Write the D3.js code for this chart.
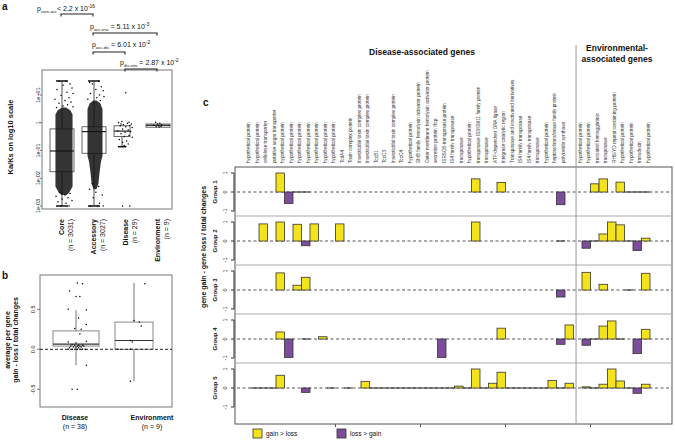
<!DOCTYPE html>
<html>
<head>
<meta charset="utf-8">
<script src="https://cdn.jsdelivr.net/npm/d3@7"></script>
<style>
body { margin: 0; background: #fff; }
text { font-family: "Liberation Sans", Arial, sans-serif; fill: #111; }
</style>
</head>
<body>
<svg width="675" height="440"></svg>
<script>
var svg = d3.select("svg");

// ---------------- panel a data ----------------
var catsA = ["Core", "Accessory", "Disease", "Environment"];
var nA = [3031, 3027, 29, 9];
var ticksA = [1e-3, 1e-2, 1e-1, 1, 10];
var tickTextA = ["1e-03", "1e-02", "1e-01", "1", "1e+01"];
// low whisker, q1, median, q3, high whisker
var boxCore = [0.001, 0.0172, 0.096, 0.6, 32];
var boxAcc = [0.001, 0.079, 0.48, 0.72, 32];
var boxDis = [0.137, 0.32, 0.5, 0.78, 0.78];
var boxEnv = [0.69, 0.69, 0.81, 0.9, 0.9];
// dense part of the jittered points: [log10 Ka/Ks, relative spread]
var cloudCore = [[0.55, 0.2], [0.45, 0.7], [0.3, 0.95], [-2.3, 0.95], [-2.5, 0.6], [-2.6, 0.3]];
var cloudAcc = [[0.8, 0.2], [0.7, 0.7], [0.5, 1], [-1.2, 1], [-1.4, 0.8], [-1.8, 0.6], [-2.2, 0.45], [-2.4, 0.2]];
// sparse points outside the dense part: [log10 Ka/Ks, jitter]
var sparseCore = [[1.5, -0.5], [1.5, 0.2], [1.4, 0.6], [1.35, -0.1], [1.25, 0.8], [1.2, -0.7], [1.1, 0.3],
  [1.05, 0.9], [0.98, -0.3], [0.9, 0.5], [0.85, -0.9], [0.8, 0.1], [0.75, 0.7], [0.7, -0.5], [0.65, 0.35],
  [0.6, -0.1], [0.58, 0.9], [0.55, -0.75], [-2.5, -0.4], [-2.55, 0.6], [-2.6, 0.1], [-2.65, -0.8],
  [-2.7, 0.4], [-2.75, -0.2], [-2.8, 0.8], [-2.85, -0.6], [-2.9, 0.2], [-3, -0.3], [-3, 0.5]];
var sparseAcc = [[1.5, 0.4], [1.45, -0.6], [1.4, -0.3], [1.3, 0.7], [1.2, 0.1], [1.15, 0.9], [1.05, -0.5],
  [1.0, 0.5], [0.95, 1.0], [0.9, 0.2], [0.85, -0.8], [0.8, 0.6], [-2.2, -0.3], [-2.3, 0.4], [-2.4, -0.6],
  [-2.5, 0.1], [-2.6, 0.8], [-2.7, -0.2], [-2.9, 0.5], [-3, -0.5], [-3, 0.3], [-3, 0.9]];
var ptsDisA = [[12, 0.1], [1.1, -0.4], [1.05, 0.5], [1.0, -0.8], [0.95, 0.3], [0.9, 0.8], [0.85, -0.2],
  [0.8, 0.6], [0.78, -0.6], [0.72, 0.1], [0.68, 0.9], [0.6, -0.3], [0.55, 0.4], [0.5, -0.9], [0.48, 0.7],
  [0.45, 0.0], [0.4, -0.5], [0.35, 0.5], [0.32, -0.1], [0.3, 0.9], [0.25, -0.7], [0.22, 0.2], [0.2, -0.3],
  [0.17, 0.4], [0.15, -0.1], [0.14, 0.1], [0.001, -0.3], [0.001, 0.6], [0.9, -0.5]];
var ptsEnvA = [[1.05, -0.4], [0.95, 0.3], [0.9, -0.1], [0.85, 0.6], [0.82, -0.7], [0.8, 0.1], [0.75, 0.5],
  [0.72, -0.3], [0.7, 0.2]];
var pLabels = [["core-acc", "< 2.2 x 10", "-16"], ["acc-env", " = 5.11 x 10", "-3"],
  ["acc-dis", " = 6.01 x 10", "-2"], ["dis-env", " = 2.87 x 10", "-2"]];
var pPairs = [[0, 1], [1, 3], [1, 2], [2, 3]];

// ---------------- panel b data ----------------
var catsB = ["Disease", "Environment"];
var nB = [38, 9];
var ticksB = [-0.5, 0, 0.5];
var boxB = [[-0.2, 0.04, 0.065, 0.23, 0.49], [-0.4, 0.0, 0.11, 0.34, 0.83]];
var ptsDisB = [[0.83, 0.1], [0.82, 0.5], [0.73, -0.5], [0.66, 0.3], [0.66, 0.0], [0.5, -0.6], [0.49, 0.8],
  [0.39, 0.2], [0.31, 0.8], [0.26, -0.1], [0.25, 0.4], [0.19, 0.3], [0.1, 0.8], [0.09, -0.6], [0.08, 0.0],
  [0.06, -0.3], [0.05, 0.2], [0.05, 0.5], [0.05, -0.1], [0.04, 0.1], [0.04, 0.3], [0.04, -0.4],
  [0.04, 0.6], [0.03, -0.2], [0.03, 0.4], [0.03, 0.0], [0.02, -0.5], [0.02, 0.2], [0.0, -0.3],
  [0.0, 0.5], [0.0, 0.1], [0.0, -0.1], [0.0, 0.3], [0.0, 0.7], [0.0, -0.6], [-0.2, 0.8],
  [-0.5, -0.3], [-0.5, 0.1]];
var ptsEnvB = [[0.82, 0.6], [0.36, 0.0], [0.34, 0.3], [0.29, 0.4], [0.11, -0.2], [0.09, -0.1],
  [0.0, -0.2], [0.0, -0.9], [-0.4, -0.2]];

// ---------------- panel c data ----------------
var diseaseGenes = ["hypothetical protein", "hypothetical protein", "cellulose transporter",
  "putative sugar transporter", "hypothetical protein", "hypothetical protein", "hypothetical protein",
  "hypothetical protein", "hypothetical protein", "hypothetical protein", "hypothetical protein", "TcdA4",
  "Toxin complex protein", "Insecticidal toxin complex protein", "Insecticidal toxin complex protein",
  "TccB1", "TccC3", "Insecticidal toxin complex protein", "TccC4", "hypothetical protein",
  "ShlB family hemolysin activator protein", "Outer membrane hemolysin activator protein",
  "secretion protein Hcp", "ISRSO5-transposase protein", "IS4 family transposase", "transposase",
  "hypothetical protein", "transposase IS3/IS911 family protein", "transposase",
  "ATP-dependent DNA ligase", "integrase catalytic region", "Transposase and inactivated derivatives",
  "IS4 family transposase", "IS4 family transposase", "transposase", "hypothetical protein",
  "heptosyltransferase family protein", "polyketide synthase"];
var envGenes = ["hypothetical protein", "hypothetical protein", "truncated hemagglutinin", "transposase",
  "RHS/YD repeat containing protein", "hypothetical protein", "hypothetical protein", "transducin",
  "hypothetical protein"];
var groupNames = ["Group 1", "Group 2", "Group 3", "Group 4", "Group 5"];
var ticksC = [-1, 0, 1];
function blank(n) { return d3.range(n).map(function() { return null; }); }
function fill(n, pairs) { var a = blank(n); pairs.forEach(function(p) { a[p[0]] = p[1]; }); return a; }
var g1Dis = fill(38, [[3, 1.0], [4, -0.6], [5, 0], [6, 0], [26, 0.69], [29, 0.5], [36, -0.67]]);
var g1Env = fill(9, [[1, 0.43], [2, 0.69], [4, 0.52], [5, 0], [6, 0], [7, 0]]);
var g2Dis = fill(38, [[1, 0.9], [3, 1.0], [5, 0.88], [6, -0.25], [7, 0.9], [10, 0.9], [26, 1.0], [36, 0]]);
var g2Env = fill(9, [[0, -0.38], [1, 0], [2, 0.37], [3, 1.0], [4, 0.85], [5, 0], [6, -0.5], [7, 0.15]]);
var g3Dis = fill(38, [[3, 0.9], [5, 0.25], [6, 0.67], [36, -0.37]]);
var g3Env = fill(9, [[0, 0.93], [2, 0.3], [5, 0], [7, 0.88]]);
var g4Dis = fill(38, [[3, 0.37], [4, -0.97], [6, -0.03], [8, 0.12], [22, -0.97], [29, 0.57], [36, -0.28], [37, 0.74]]);
var g4Env = fill(9, [[0, -0.33], [1, 0], [2, 0.68], [3, 0.95], [4, 0.03], [6, -0.77], [7, 0.51]]);
var g5Dis = fill(38, [[0, 0.03], [1, 0.03], [2, 0.03], [3, 0.67], [6, -0.23], [9, 0.02], [11, 0.02],
  [13, 0.35], [14, 0.02], [15, 0.02], [16, 0.02], [17, 0.02], [18, 0], [19, 0], [20, 0.02], [21, 0.02],
  [22, 0.02], [23, 0], [24, 0.1], [25, 0], [26, 1.0], [27, 0.02], [28, 0.25], [29, 0.83], [30, 0.02],
  [31, 0.02], [32, 0], [33, 0.02], [34, 0.02], [35, 0.4], [36, -0.04], [37, 0.25]]);
var g5Env = fill(9, [[0, 0.06], [1, 0], [2, 0.2], [3, 1.0], [4, 0.37], [5, 0], [6, -0.28], [7, 0.2]]);
var groupDis = [g1Dis, g2Dis, g3Dis, g4Dis, g5Dis];
var groupEnv = [g1Env, g2Env, g3Env, g4Env, g5Env];

var yellow = "#f4e31b", purple = "#7b4d9a";

function vtext(x, y, str, anchor, size, weight) {
  return svg.append("text")
    .attr("transform", "translate(" + x + "," + y + ") rotate(-90)")
    .attr("text-anchor", anchor)
    .attr("font-size", size)
    .attr("font-weight", weight || "normal")
    .text(str);
}

// =============== panel a ===============
var xa = d3.scalePoint().domain(catsA).range([62, 158]);
var ya = d3.scaleLog().domain([1e-3, 10]).range([206, 95]);
var boxesA = [boxCore, boxAcc, boxDis, boxEnv];
var widthA = [24, 24, 16, 24];

svg.append("text").attr("x", 2).attr("y", 10).attr("font-size", 10).attr("font-weight", "bold").text("a");

var ga = svg.append("g");
ga.append("rect").attr("x", 42).attr("y", 70).attr("width", 130).attr("height", 139)
  .attr("fill", "none").attr("stroke", "#777");

boxesA.forEach(function(b, i) {
  var cx = xa(catsA[i]) - (i == 2 ? 4 : 0), w = widthA[i];
  ga.append("line").attr("x1", cx).attr("x2", cx).attr("y1", ya(b[0])).attr("y2", ya(b[1])).attr("stroke", "#555");
  ga.append("line").attr("x1", cx).attr("x2", cx).attr("y1", ya(b[3])).attr("y2", ya(b[4])).attr("stroke", "#555");
  if (b[4] > b[3]) ga.append("line").attr("x1", cx - w / 4).attr("x2", cx + w / 4).attr("y1", ya(b[4])).attr("y2", ya(b[4])).attr("stroke", "#111").attr("stroke-width", 1.5);
  if (b[0] < b[1]) ga.append("line").attr("x1", cx - w / 4).attr("x2", cx + w / 4).attr("y1", ya(b[0])).attr("y2", ya(b[0])).attr("stroke", "#111").attr("stroke-width", 1.5);
  ga.append("rect").attr("x", cx - w / 2).attr("y", ya(b[3])).attr("width", w).attr("height", ya(b[1]) - ya(b[3]))
    .attr("fill", "none").attr("stroke", "#666");
  ga.append("line").attr("x1", cx - w / 2).attr("x2", cx + w / 2).attr("y1", ya(b[2])).attr("y2", ya(b[2])).attr("stroke", "#222").attr("stroke-width", 1.2);
});

function cloud(data, cx, half) {
  var area = d3.area()
    .y(function(d) { return ya(Math.pow(10, d[0])); })
    .x0(function(d) { return cx - half * d[1]; })
    .x1(function(d) { return cx + half * d[1]; })
    .curve(d3.curveLinear);
  ga.append("path").datum(data).attr("d", area).attr("fill", "#111").attr("opacity", 0.85);
}
cloud(cloudCore, xa("Core") + 2, 9);
cloud(cloudAcc, xa("Accessory") + 1, 7.5);

function dots(data, cx, half, logv) {
  ga.selectAll(null).data(data).enter().append("circle")
    .attr("cx", function(d) { return cx + d[1] * half; })
    .attr("cy", function(d) { return ya(logv ? Math.pow(10, d[0]) : d[0]); })
    .attr("r", 0.75).attr("fill", "#000");
}
dots(sparseCore, xa("Core") + 2, 10, true);
dots(sparseAcc, xa("Accessory") + 1, 9, true);
dots(ptsDisA, xa("Disease") - 1, 8, false);
dots(ptsEnvA, xa("Environment"), 6, false);

ticksA.forEach(function(t, i) {
  ga.append("line").attr("x1", 40).attr("x2", 42).attr("y1", ya(t)).attr("y2", ya(t)).attr("stroke", "#777");
  vtext(39.5, ya(t), tickTextA[i], "middle", 5.5);
});
vtext(13, 137, "Ka/Ks on log10 scale", "middle", 7.5, "bold");

catsA.forEach(function(c, i) {
  vtext(xa(c) + 2, 219, c, "end", 7, "bold");
  vtext(xa(c) + 10.5, 219, "(n = " + nA[i] + ")", "end", 7);
});

// p-value brackets
var pTextPos = [[37, 11], [90, 29], [92, 47], [120, 65]];
var pBarY = [14, 33, 52, 69];
pPairs.forEach(function(p, i) {
  var x1 = xa(catsA[p[0]]) - 1, x2 = xa(catsA[p[1]]) - 1, y = pBarY[i];
  ga.append("path").attr("d", "M" + x1 + "," + (y + 2.5) + "V" + y + "H" + x2 + "V" + (y + 2.5))
    .attr("fill", "none").attr("stroke", "#222").attr("stroke-width", 1.1);
  var t = ga.append("text").attr("x", pTextPos[i][0]).attr("y", pTextPos[i][1]).attr("font-size", 7);
  t.append("tspan").text("p");
  t.append("tspan").attr("font-size", 4.2).attr("dy", 2).text(pLabels[i][0]);
  t.append("tspan").attr("dy", -2).text(pLabels[i][1]);
  t.append("tspan").attr("font-size", 5).attr("dy", -3).text(pLabels[i][2]);
});

// =============== panel b ===============
var xb = d3.scalePoint().domain(catsB).range([76, 134]);
var xbLab = d3.scalePoint().domain(catsB).range([75, 152]);
var yb = d3.scaleLinear().domain([-0.5, 0.5]).range([389.3, 309.3]);
var gb = svg.append("g");

svg.append("text").attr("x", 2).attr("y", 279).attr("font-size", 10).attr("font-weight", "bold").text("b");
gb.append("rect").attr("x", 40).attr("y", 275).attr("width", 132).attr("height", 132)
  .attr("fill", "none").attr("stroke", "#777");

boxB.forEach(function(b, i) {
  var cx = xb(catsB[i]), w = i == 0 ? 46 : 38;
  gb.append("line").attr("x1", cx).attr("x2", cx).attr("y1", yb(b[0])).attr("y2", yb(b[1])).attr("stroke", "#777");
  gb.append("line").attr("x1", cx).attr("x2", cx).attr("y1", yb(b[3])).attr("y2", yb(b[4])).attr("stroke", "#777");
  gb.append("rect").attr("x", cx - w / 2).attr("y", yb(b[3])).attr("width", w).attr("height", yb(b[1]) - yb(b[3]))
    .attr("fill", "none").attr("stroke", "#888");
  gb.append("line").attr("x1", cx - w / 2).attr("x2", cx + w / 2).attr("y1", yb(b[2])).attr("y2", yb(b[2])).attr("stroke", "#333").attr("stroke-width", 1.2);
});
gb.append("line").attr("x1", 40).attr("x2", 172).attr("y1", yb(0)).attr("y2", yb(0))
  .attr("stroke", "#222").attr("stroke-dasharray", "3,2");
function dotsB(data, cx, half) {
  gb.selectAll(null).data(data).enter().append("circle")
    .attr("cx", function(d) { return cx + d[1] * half; })
    .attr("cy", function(d) { return yb(d[0]); })
    .attr("r", 0.75).attr("fill", "#000");
}
dotsB(ptsDisB, xb("Disease"), 13);
dotsB(ptsEnvB, xb("Environment"), 18);

ticksB.forEach(function(t) {
  gb.append("line").attr("x1", 37).attr("x2", 40).attr("y1", yb(t)).attr("y2", yb(t)).attr("stroke", "#777");
  vtext(35, yb(t), d3.format(".1f")(t).replace("−", "-"), "middle", 5.5);
});
vtext(10, 340, "average per gene", "middle", 7, "bold");
vtext(18, 340, "gain - loss / total changes", "middle", 7, "bold");
catsB.forEach(function(c, i) {
  gb.append("text").attr("x", xbLab(c)).attr("y", 420).attr("text-anchor", "middle")
    .attr("font-size", 7).attr("font-weight", "bold").text(c);
  gb.append("text").attr("x", xbLab(c)).attr("y", 429).attr("text-anchor", "middle")
    .attr("font-size", 7).text("(n = " + nB[i] + ")");
});

// =============== panel c ===============
var xc = d3.scaleLinear().domain([0, 10]).range([250.5, 335.5]);
var colW = xc(1) - xc(0);
var envStart = 39;
var cTop = 167, cBottom = 424, cLeft = 235, cRight = 672, rowH = 49;
var gc = svg.append("g");

svg.append("text").attr("x", 203).attr("y", 106).attr("font-size", 10).attr("font-weight", "bold").text("c");

// gene labels
var labels = diseaseGenes.map(function(g, i) { return {name: g, i: i}; })
  .concat(envGenes.map(function(g, j) { return {name: g, i: envStart + j}; }));
gc.selectAll(".gene").data(labels).enter().append("text")
  .attr("class", "gene")
  .attr("transform", function(d) { return "translate(" + (xc(d.i) + colW / 2 - 6) + ",163) rotate(-90)"; })
  .attr("dy", "0.35em")
  .attr("font-size", 4.7)
  .style("fill", "#333")
  .text(function(d) { return d.name; });

gc.append("text").attr("x", 422).attr("y", 55).attr("text-anchor", "middle")
  .attr("font-size", 8.5).attr("font-weight", "bold").text("Disease-associated genes");
gc.append("text").attr("x", 617).attr("y", 51).attr("text-anchor", "middle")
  .attr("font-size", 8.5).attr("font-weight", "bold").text("Environmental-");
gc.append("text").attr("x", 617).attr("y", 62).attr("text-anchor", "middle")
  .attr("font-size", 8.5).attr("font-weight", "bold").text("associated genes");

// frame, row separators and group divider
gc.append("rect").attr("x", cLeft).attr("y", cTop).attr("width", cRight - cLeft).attr("height", cBottom - cTop)
  .attr("fill", "none").attr("stroke", "#555");
d3.range(1, 5).forEach(function(r) {
  gc.append("line").attr("x1", cLeft).attr("x2", cRight).attr("y1", cTop + r * rowH).attr("y2", cTop + r * rowH)
    .attr("stroke", "#aaa");
});
var sepX = xc(38.3);
gc.append("line").attr("x1", sepX).attr("x2", sepX).attr("y1", 45).attr("y2", cBottom)
  .attr("stroke", "#999");

groupNames.forEach(function(name, r) {
  var zero = cTop + 25 + r * rowH;
  var y = d3.scaleLinear().domain([-1, 1]).range([zero + 19, zero - 19]);
  // axis
  gc.append("line").attr("x1", cLeft - 1).attr("x2", cLeft - 1).attr("y1", y(1)).attr("y2", y(-1)).attr("stroke", "#333");
  ticksC.forEach(function(t) {
    gc.append("line").attr("x1", cLeft - 4).attr("x2", cLeft - 1).attr("y1", y(t)).attr("y2", y(t)).attr("stroke", "#333");
    vtext(cLeft - 8, y(t), String(t), "middle", 5.5);
  });
  vtext(217, zero, name, "middle", 6, "bold");
  gc.append("line").attr("x1", cLeft + 2).attr("x2", cRight).attr("y1", zero).attr("y2", zero)
    .attr("stroke", "#555").attr("stroke-dasharray", "3,2.5");

  var cells = [];
  groupDis[r].forEach(function(v, i) { if (v !== null) cells.push({i: i, v: v}); });
  groupEnv[r].forEach(function(v, j) { if (v !== null) cells.push({i: envStart + j, v: v}); });

  cells.forEach(function(d) {
    var h = Math.abs(y(d.v) - y(0));
    if (h < 0.8) {
      gc.append("line").attr("x1", xc(d.i)).attr("x2", xc(d.i + 1)).attr("y1", zero).attr("y2", zero)
        .attr("stroke", "#222").attr("stroke-width", 1);
    } else {
      gc.append("rect").attr("x", xc(d.i)).attr("width", colW)
        .attr("y", d.v > 0 ? y(d.v) : zero).attr("height", h)
        .attr("fill", d.v > 0 ? yellow : purple).attr("stroke", "#333").attr("stroke-width", 0.8);
    }
  });
});
vtext(206, 247, "gene gain - gene loss / total changes", "middle", 7, "bold");

[10, 20, 30, 40].forEach(function(t) {
  gc.append("line").attr("x1", xc(t)).attr("x2", xc(t)).attr("y1", cBottom).attr("y2", cBottom + 3).attr("stroke", "#555");
});

// legend
var legend = [["gain > loss", yellow, 253], ["loss > gain", purple, 337]];
legend.forEach(function(l) {
  gc.append("rect").attr("x", l[2]).attr("y", 429).attr("width", 9).attr("height", 9)
    .attr("fill", l[1]).attr("stroke", "#333").attr("stroke-width", 0.8);
  gc.append("text").attr("x", l[2] + 13).attr("y", 436).attr("font-size", 6.5).text(l[0]);
});
</script>
</body>
</html>
